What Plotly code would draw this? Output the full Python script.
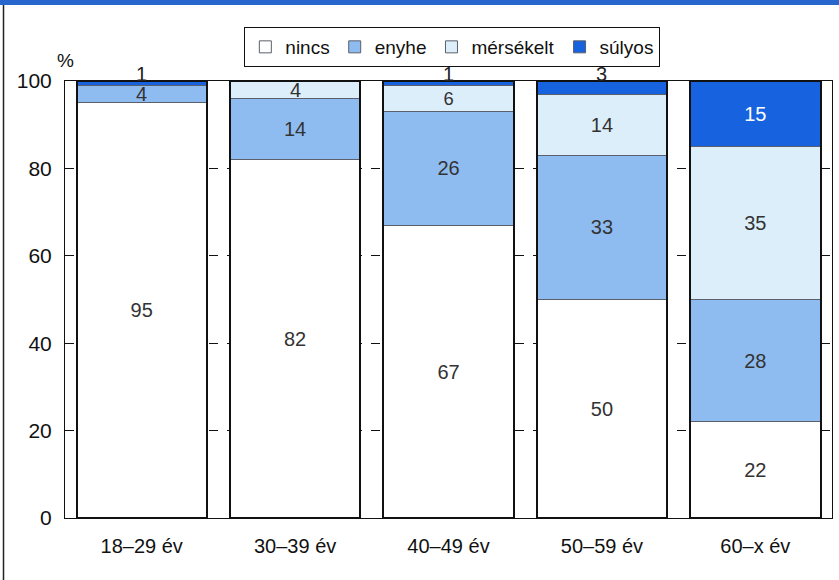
import plotly.graph_objects as go

# Age groups and the share (%) of each severity level
age_groups = ["18–29 év", "30–39 év", "40–49 év", "50–59 év", "60–x év"]
nincs = [95, 82, 67, 50, 22]
enyhe = [4, 14, 26, 33, 28]
merseklet = [0, 4, 6, 14, 35]
sulyos = [1, 0, 1, 3, 15]
y_ticks = [0, 20, 40, 60, 80, 100]

FONT = "Liberation Sans, Arial, sans-serif"
TXT = "#333333"
SEG_LINE = dict(color="#5a5f6a", width=1)
SMALL = 5  # segments thinner than this get their label as an annotation

fig = go.Figure()
notes = []

series = [
    ("nincs", nincs, "#ffffff", TXT),
    ("enyhe", enyhe, "#8fbcf0", TXT),
    ("mérsékelt", merseklet, "#ddeefb", TXT),
    ("súlyos", sulyos, "#1763df", "#ffffff"),
]
base = [0] * len(age_groups)
for idx, (name, vals, color, tcolor) in enumerate(series):
    is_top = idx == len(series) - 1
    text = [str(v) if v >= SMALL else "" for v in vals]
    fig.add_trace(go.Bar(
        name=name, x=age_groups, y=vals, text=text,
        textposition="inside", textangle=0, insidetextanchor="middle",
        textfont=dict(family=FONT, size=20, color=tcolor),
        marker=dict(color=color, line=SEG_LINE),
        hoverinfo="skip",
    ))
    for cat, b, v in zip(age_groups, base, vals):
        if 0 < v < SMALL:
            if is_top:
                # thin top segment: label sits on the column's upper edge
                notes.append(dict(x=cat, y=b + v, text=str(v), yshift=7,
                                  font=dict(family=FONT, size=20, color="#222222")))
            else:
                notes.append(dict(x=cat, y=b + v / 2, text=str(v),
                                  font=dict(family=FONT, size=20, color=TXT)))
    base = [b + v for b, v in zip(base, vals)]

# black outline around each full column
fig.add_trace(go.Bar(
    x=age_groups, y=base, xaxis="x2", showlegend=False,
    marker=dict(color="rgba(0,0,0,0)", line=dict(color="#111111", width=2)),
    hoverinfo="skip",
))

W, H = 839, 580
L, R, T, B = 65, 7, 81, 62
pw, ph = W - L - R, H - T - B

annotations = [dict(n, xref="x", yref="y", showarrow=False,
                    xanchor="center", yanchor="middle") for n in notes]
annotations.append(dict(
    text="%", xref="paper", yref="paper", x=0.0, y=1 + 21 / ph,
    xanchor="center", yanchor="middle", showarrow=False,
    font=dict(family=FONT, size=19, color="#111111"),
))

fig.update_layout(
    width=W, height=H,
    margin=dict(l=L, r=R, t=T, b=B),
    barmode="stack", bargap=0.15,
    paper_bgcolor="white", plot_bgcolor="white",
    font=dict(family=FONT, size=20, color="#111111"),
    showlegend=True,
    legend=dict(
        orientation="h", x=0.505, xanchor="center", y=1 + (T - 27) / ph, yanchor="top",
        bordercolor="#111111", borderwidth=1, bgcolor="rgba(255,255,255,0)",
        font=dict(family=FONT, size=19, color="#111111"),
        traceorder="normal", itemclick=False, itemwidth=30,
    ),
    xaxis=dict(
        type="category", range=[-0.5, 4.5], showgrid=False,
        showline=True, linecolor="#111111", linewidth=1, mirror=True,
        ticks="", ticklabelstandoff=10, tickfont=dict(size=20),
    ),
    xaxis2=dict(
        type="category", overlaying="x", range=[-0.5, 4.5],
        visible=False,
    ),
    yaxis=dict(
        range=[0, 100], tickvals=y_ticks, showgrid=True,
        gridcolor="#111111", griddash="dash", gridwidth=1,
        showline=True, linecolor="#111111", linewidth=1, mirror=True,
        ticks="", ticklabelstandoff=8, zeroline=False, tickfont=dict(size=21),
    ),
    annotations=annotations,
    shapes=[
        # blue band along the top edge
        dict(type="rect", xref="paper", yref="paper", layer="above",
             x0=-L / pw, x1=1 + R / pw, y0=1 + (T - 5) / ph, y1=1 + (T + 1) / ph,
             fillcolor="#2766cc", line=dict(width=0)),
        # left frame line
        dict(type="line", xref="paper", yref="paper",
             x0=-(L - 3.5) / pw, x1=-(L - 3.5) / pw, y0=-B / ph, y1=1 + (T - 5) / ph,
             line=dict(color="#222222", width=1.5)),
    ],
)

fig.write_html("out.html")
